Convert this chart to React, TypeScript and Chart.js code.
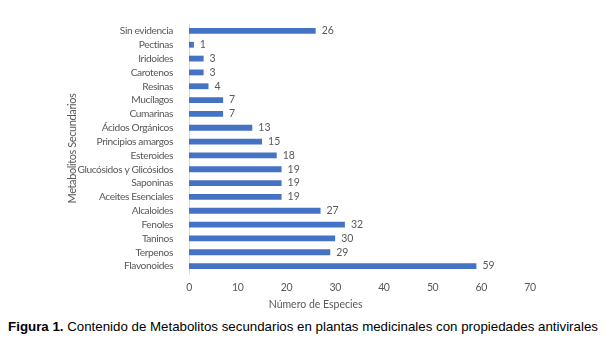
import React, { useEffect, useRef } from "react";
import { Chart, registerables } from "chart.js";

Chart.register(...registerables);

const categories = [
  "Sin evidencia",
  "Pectinas",
  "Iridoides",
  "Carotenos",
  "Resinas",
  "Mucílagos",
  "Cumarinas",
  "Ácidos Orgánicos",
  "Principios amargos",
  "Esteroides",
  "Glucósidos y Glicósidos",
  "Saponinas",
  "Aceites Esenciales",
  "Alcaloides",
  "Fenoles",
  "Taninos",
  "Terpenos",
  "Flavonoides",
];
const values = [26, 1, 3, 3, 4, 7, 7, 13, 15, 18, 19, 19, 19, 27, 32, 30, 29, 59];
const xTitle = "Número de Especies";
const yTitle = "Metabolitos Secundarios";
const captionBold = "Figura 1.";
const captionText = " Contenido de Metabolitos secundarios en plantas medicinales con propiedades antivirales";

const FONT = "Lato, 'Open Sans', sans-serif";
const GRAY = "#595959";

// condense axis text slightly (the source uses a narrow font)
const condense = {
  id: "condense",
  beforeDraw(chart: any) {
    chart.ctx.letterSpacing = "-0.4px";
  },
  beforeDatasetsDraw(chart: any) {
    chart.ctx.letterSpacing = "0px";
  },
};

const valueLabels = {
  id: "valueLabels",
  afterDatasetsDraw(chart: any) {
    const ctx = chart.ctx;
    const meta = chart.getDatasetMeta(0);
    ctx.save();
    ctx.font = `10.5px ${FONT}`;
    ctx.fillStyle = GRAY;
    ctx.textAlign = "left";
    ctx.textBaseline = "middle";
    meta.data.forEach((bar: any, i: number) => {
      ctx.fillText(String(values[i]), bar.x + 6, bar.y);
    });
    ctx.restore();
  },
};

const xAxisTitle = {
  id: "xAxisTitle",
  afterDraw(chart: any) {
    const ctx = chart.ctx;
    const xs = chart.scales.x;
    ctx.save();
    ctx.font = `10.5px ${FONT}`;
    ctx.fillStyle = GRAY;
    ctx.textAlign = "center";
    ctx.textBaseline = "middle";
    ctx.fillText(xTitle, xs.getPixelForValue(26), xs.top + 32);
    ctx.restore();
  },
};

export default function App() {
  const ref = useRef<HTMLCanvasElement>(null);
  useEffect(() => {
    const chart = new Chart(ref.current!, {
      type: "bar",
      data: {
        labels: categories,
        datasets: [
          {
            data: values,
            backgroundColor: "#4472C4",
            barPercentage: 0.42,
            categoryPercentage: 1,
          },
        ],
      },
      options: {
        indexAxis: "y",
        animation: false,
        responsive: false,
        layout: { padding: { left: 66, right: 76, top: 24, bottom: 0 } },
        plugins: { legend: { display: false }, tooltip: { enabled: false } },
        scales: {
          x: {
            min: 0,
            max: 70,
            ticks: { stepSize: 10, color: GRAY, font: { family: FONT, size: 10.5 }, padding: 0 },
            grid: { display: false },
            border: { display: false },
            afterFit(s: any) {
              s.height = 37;
            },
          },
          y: {
            ticks: { color: GRAY, font: { family: FONT, size: 10.2 }, padding: 8, autoSkip: false },
            grid: { display: false },
            border: { display: true, color: "#D9D9D9", width: 1 },
            title: {
              display: true,
              text: yTitle,
              color: GRAY,
              font: { family: FONT, size: 11 },
              padding: 0,
            },
            afterFit(s: any) {
              s.width = 123;
            },
          },
        },
      },
      plugins: [condense, valueLabels, xAxisTitle],
    });
    return () => chart.destroy();
  }, []);
  return (
    <div style={{ position: "fixed", left: 0, top: 0, width: 606, height: 350, background: "#fff" }}>
      <canvas ref={ref} width={606} height={310} style={{ display: "block" }} />
      <div
        style={{
          position: "absolute",
          left: 0,
          top: 319,
          width: 606,
          textAlign: "center",
          whiteSpace: "nowrap",
          fontFamily: "'Liberation Sans', Arial, sans-serif",
          fontSize: 13.3,
          lineHeight: "16px",
          color: "#000",
        }}
      >
        <b>{captionBold}</b>
        {captionText}
      </div>
    </div>
  );
}
